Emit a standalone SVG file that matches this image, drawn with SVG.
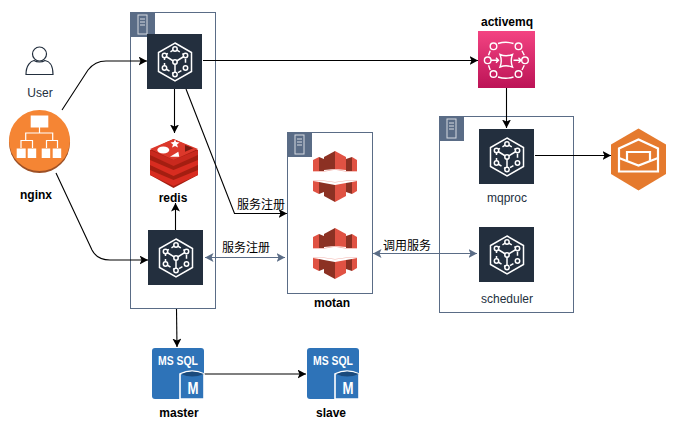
<svg xmlns="http://www.w3.org/2000/svg" width="678" height="429" viewBox="0 0 678 429">
<style>
text{font-family:"Liberation Sans","Noto Sans CJK SC",sans-serif;font-size:12px;text-anchor:middle;fill:#000}
.b{font-weight:bold}
.s{fill:#232F3E}
.box{fill:#fff;stroke:#5A6C86;stroke-width:1}
.c{fill:none;stroke:#000;stroke-width:1.100}
.g{fill:none;stroke:#5A6C86;stroke-width:1.100}
.w{fill:none;stroke:#fff;stroke-width:1.500}
</style>
<defs>
<marker id="a" markerUnits="userSpaceOnUse" markerWidth="10" markerHeight="10" refX="8.500" refY="4.500" orient="auto"><path d="M0 0L8.500 4.500L0 9L2 4.500Z" fill="#000"/></marker>
<marker id="ag" markerUnits="userSpaceOnUse" markerWidth="10" markerHeight="10" refX="8.500" refY="4.500" orient="auto-start-reverse"><path d="M0 0L8.500 4.500L0 9L2 4.500Z" fill="#5A6C86"/></marker>
<linearGradient id="pk" x1="0" y1="0" x2="0" y2="1"><stop offset="0" stop-color="#F34482"/><stop offset="1" stop-color="#BC1356"/></linearGradient>
<g id="tab"><rect width="25" height="25" fill="#5A6C86"/><rect x="8" y="3" width="9" height="19" fill="none" stroke="#fff" stroke-opacity=".75"/><path d="M10 7H15M10 10H15M10 13H15" stroke="#fff" stroke-opacity=".75"/></g>
<g id="svc"><rect width="55" height="55" fill="#232F3E"/>
<path class="w" d="M28 9L44.500 18.500V37.500L28 47L11.500 37.500V18.500Z"/>
<path class="w" d="M28 28V40M28 28L17.500 21.500M28 28L38.500 21.500"/>
<path class="w" stroke-dasharray="4 3" d="M17.500 21.500L28 15L38.500 21.500V34L28 40.500L17.500 34Z"/>
<g fill="#232F3E" stroke="#fff" stroke-width="1.500"><circle cx="28" cy="15" r="2.200"/><circle cx="17.500" cy="21.500" r="2.200"/><circle cx="38.500" cy="21.500" r="2.200"/><circle cx="17.500" cy="34" r="2.200"/><circle cx="38.500" cy="34" r="2.200"/><circle cx="28" cy="40.500" r="2.200"/><circle cx="28" cy="28" r="2.200"/></g></g>
<g id="sql"><path d="M3 0H49Q52 0 52 3V51H3Q0 51 0 48V3Q0 0 3 0Z" fill="#2E73B8"/><text x="26" y="16.500" textLength="40" lengthAdjust="spacingAndGlyphs" style="fill:#fff;font-size:13px;font-weight:bold">MS SQL</text><path d="M28 26Q40 20 52 26V51H28Z" fill="#2E73B8" stroke="#fff" stroke-width="1.600"/><path d="M29 26Q40 21 52 26Q40 31 29 26Z" fill="#1A4A7C"/><text x="41" y="46" textLength="11" lengthAdjust="spacingAndGlyphs" style="fill:#fff;font-size:16px;font-weight:bold">M</text></g>
<g id="cf">
<path d="M1 9L7 6V20L1 20Z" fill="#E05243"/><path d="M7 6L12 8V20H7Z" fill="#8C3123"/>
<path d="M34 8L40 6V20H34Z" fill="#8C3123"/><path d="M40 6L45 9V20H40Z" fill="#E05243"/>
<path d="M12 6L23 0V18L12 19Z" fill="#8C3123"/><path d="M23 0L34 6V19L23 18Z" fill="#E05243"/>
<path d="M1 20H12L23 18L34 20H45V20.800H34L23 18.800L12 20.800H1Z" fill="#F2B0A9"/>
<path d="M1 29.500H12L23 31L34 29.500H45V30H34L23 31.500L12 30H1Z" fill="#F2B0A9"/>
<path d="M1 30L7 31V43L1 40Z" fill="#E05243"/><path d="M7 31L12 32V41L7 43Z" fill="#8C3123"/>
<path d="M34 32L40 31V43L34 41Z" fill="#8C3123"/><path d="M40 31L45 30V40L40 43Z" fill="#E05243"/>
<path d="M12 32L23 34V51L12 45Z" fill="#8C3123"/><path d="M23 34L34 32V45L23 51Z" fill="#E05243"/></g>
</defs>

<g id="vpc-left"><rect class="box" x="130.500" y="12.500" width="85" height="296"/><use href="#tab" x="130" y="12"/></g>
<g id="vpc-motan"><rect class="box" x="287.500" y="132.500" width="85" height="161"/><use href="#tab" x="287" y="132"/></g>
<g id="vpc-right"><rect class="box" x="439.500" y="116.500" width="134" height="196"/><use href="#tab" x="439" y="116"/></g>

<g id="connectors">
<path class="c" marker-end="url(#a)" d="M62 110L88 70Q95 61 106 61H147"/>
<path class="c" marker-end="url(#a)" d="M56 173L92 250Q97 260 110 260H148"/>
<path class="c" marker-end="url(#a)" d="M203 60.500H478"/>
<path class="c" marker-end="url(#a)" d="M174.500 89V133"/>
<path class="c" marker-end="url(#a)" d="M186 89L234.500 213.500H287"/>
<path class="c" marker-end="url(#a)" d="M175.500 230V203"/>
<path class="g" marker-start="url(#ag)" marker-end="url(#ag)" d="M205 257.500H285"/>
<path class="g" marker-start="url(#ag)" marker-end="url(#ag)" d="M373 253.500H477"/>
<path class="c" marker-end="url(#a)" d="M506.500 88V128"/>
<path class="c" marker-end="url(#a)" d="M535 155.500H611"/>
<path class="c" marker-end="url(#a)" d="M176.500 309L177 347"/>
<path class="c" marker-end="url(#a)" d="M204 374H306"/>
</g>

<g id="user"><circle cx="39.500" cy="54" r="7" fill="#fff" stroke="#232F3E" stroke-width="1.200"/><path d="M26 74.500C26 65 31 61 34 60.500C37 62.500 42 62.500 45 60.500C49 61 53 65 53 74.500Z" fill="none" stroke="#232F3E" stroke-width="1.200"/><text class="s" x="40" y="97">User</text></g>

<g id="nginx"><circle cx="39.500" cy="142.500" r="30.500" fill="#9D5025"/><circle cx="39.500" cy="140.500" r="30.500" fill="#F58534"/>
<path d="M39.500 127V133M25.700 140V133H52.700V140M21 148V140.500H32.500V148M46.500 148V140.500H57.500V148" fill="none" stroke="#fff" stroke-width="1.200"/>
<g fill="#fff"><rect x="30.700" y="115.500" width="17.600" height="12"/><rect x="16.700" y="148.500" width="9" height="9.500"/><rect x="27.700" y="148.500" width="8.500" height="9.500"/><rect x="41.700" y="148.500" width="8.500" height="9.500"/><rect x="52.700" y="148.500" width="8.500" height="9.500"/></g>
<text class="b" x="36" y="199">nginx</text></g>

<g id="node-top"><use href="#svc" x="147" y="34"/></g>

<g id="redis">
<path d="M150 150L173.500 139L198 150V175L173.500 188L150 175Z" fill="#A41E11"/>
<path d="M150 170L173.500 180L198 170V175L173.500 186L150 175Z" fill="#D82C20"/>
<path d="M150 160L173.500 170L198 160V165L173.500 176L150 165Z" fill="#D82C20"/>
<path d="M150 150L173.500 160L198 150V155L173.500 166L150 155Z" fill="#C9291E"/>
<path d="M150 149L173.500 139L198 149L173.500 160Z" fill="#DC382B"/>
<ellipse cx="163.300" cy="150" rx="6" ry="3.500" fill="#fff"/><path d="M175 139.500L176.200 142L179.500 142.500L177 144.500L178 147.500L175 146L172 147.500L173 144.500L170.500 142.500L173.800 142Z" fill="#fff"/><path d="M170 156.700L178.300 151.700L179.300 156.700Z" fill="#fff"/><path d="M185 145L193.300 148.300L185 151.700Z" fill="#7A1A10"/>
<text class="b" x="173" y="202">redis</text></g>

<g id="node-bottom"><use href="#svc" x="148" y="230"/></g>

<g id="motan"><use href="#cf" x="312" y="151"/><use href="#cf" x="312" y="228"/><text class="b" x="332" y="307">motan</text></g>

<g id="activemq">
<rect x="478" y="31" width="57" height="57" fill="url(#pk)"/>
<g fill="none" stroke="#fff" stroke-width="1.400"><circle cx="493.500" cy="46.300" r="3.300"/><circle cx="518.500" cy="46.300" r="3.300"/><circle cx="487.700" cy="60.300" r="3.300"/><circle cx="525" cy="60.300" r="3.300"/><circle cx="493.500" cy="74" r="3.300"/><circle cx="518.500" cy="74" r="3.300"/>
<path d="M498 43.500Q506 41 513.500 43.500M498 77Q506 79.500 513.500 77M488.500 55.300L490.200 50.700M522 50.700L524.300 55.300M488.500 65.300L490.200 70M522 70L524.300 65.300"/>
<path d="M500 54.500Q506 57 512.500 54.500Q510 61 512.500 67Q506 64.500 500 67Q502.500 61 500 54.500Z"/><path d="M491 60.300H498.500M496 57.800L498.500 60.300L496 62.800M513.500 60.300H521M518.500 57.800L521 60.300L518.500 62.800"/></g>
<text class="b" x="507" y="26">activemq</text></g>

<g id="mqproc"><use href="#svc" x="479" y="129"/><text class="s" x="507" y="202">mqproc</text></g>
<g id="scheduler"><use href="#svc" x="479" y="227"/><text class="s" x="507" y="303">scheduler</text></g>

<g id="email"><path d="M638.500 128.500L666 144.500V174L638.500 190.500L611 174V144.500Z" fill="#E57A2E"/>
<g fill="none" stroke="#fff" stroke-width="2.200"><path d="M619 171.500V148.500L638.500 139.500L658 148.500V171.500Z"/><path d="M619 158L638.500 165.500L658 158"/><path d="M627 160.500V152H650V160.500"/></g></g>

<g id="master"><use href="#sql" x="152" y="348"/><text class="b" x="179" y="417">master</text></g>
<g id="slave"><use href="#sql" x="307" y="348"/><text class="b" x="331" y="417">slave</text></g>

<g id="labels">
<text x="261" y="209">服务注册</text>
<text x="246" y="252">服务注册</text>
<text x="407" y="250">调用服务</text>
</g>
</svg>
